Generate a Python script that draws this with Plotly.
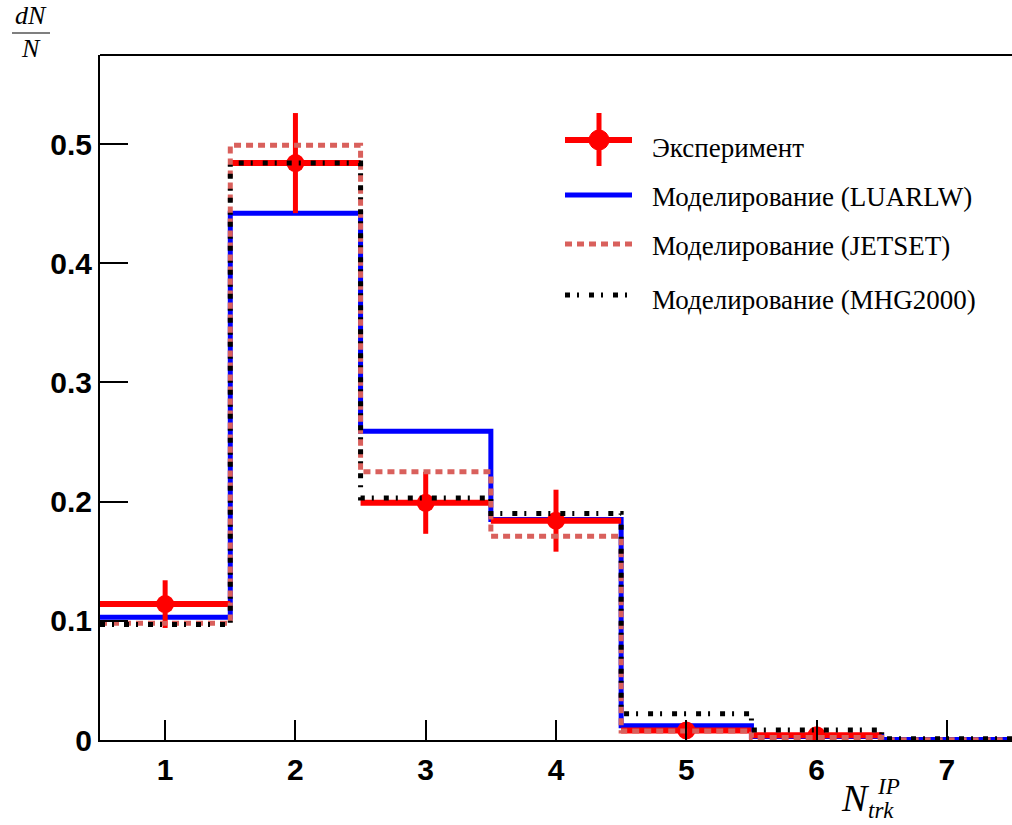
import plotly.graph_objects as go

# Track multiplicity bins and normalised distributions
n_trk = [1, 2, 3, 4, 5, 6, 7]
bin_edges = [0.5, 1.5, 2.5, 3.5, 4.5, 5.5, 6.5, 7.5]

# Empty bin (7) is not drawn for the data
exp_vals = [0.114, 0.484, 0.199, 0.184, 0.008, 0.004, None]
exp_errs = [0.020, 0.042, 0.026, 0.026, 0.002, 0.002, None]

luarlw = [0.103, 0.442, 0.259, 0.185, 0.012, 0.003, 0.0005]
jetset = [0.098, 0.499, 0.225, 0.171, 0.0075, 0.002, 0.0003]
mhg2000 = [0.097, 0.484, 0.203, 0.190, 0.022, 0.0084, 0.001]

labels = [
    "Эксперимент",
    "Моделирование (LUARLW)",
    "Моделирование (JETSET)",
    "Моделирование (MHG2000)",
]

RED = "#ff0000"
BLUE = "#0000ff"
PINK = "#d9605c"
BLACK = "#000000"

STYLES = {
    "luarlw": dict(color=BLUE, width=5, dash="solid"),
    "jetset": dict(color=PINK, width=5, dash="7px,5px"),
    "mhg": dict(color=BLACK, width=5, dash="5px,7px,2px,10px"),
}


def step(values):
    return values + [values[-1]]


fig = go.Figure()

fig.add_trace(go.Scatter(x=bin_edges, y=step(luarlw), mode="lines",
                         line=dict(shape="hv", **STYLES["luarlw"]),
                         showlegend=False, hoverinfo="skip"))

fig.add_trace(go.Scatter(
    x=n_trk, y=exp_vals, mode="markers",
    marker=dict(color=RED, size=18, symbol="circle"),
    error_y=dict(type="data", array=exp_errs, color=RED, thickness=5, width=0),
    error_x=dict(type="constant", value=0.5, color=RED, thickness=6, width=0),
    showlegend=False))

fig.add_trace(go.Scatter(x=bin_edges, y=step(jetset), mode="lines",
                         line=dict(shape="hv", **STYLES["jetset"]),
                         showlegend=False, hoverinfo="skip"))

fig.add_trace(go.Scatter(x=bin_edges, y=step(mhg2000), mode="lines",
                         line=dict(shape="hv", **STYLES["mhg"]),
                         showlegend=False, hoverinfo="skip"))

# Plot area in pixels: x 100..1012, y 55..740
L, R, T, B = 100, 1012, 55, 740


def px(x):
    return (x - L) / (R - L)


def py(y):
    return (B - y) / (B - T)


shapes = []
annotations = []

# Legend drawn by hand so the samples can be long
x0, x1 = px(565), px(632)
xtext = px(650)
legend_rows = [140, 195, 244, 295]
text_rows = [148, 197, 246, 300]

# Experiment sample: cross with a dot
shapes.append(dict(type="line", xref="paper", yref="paper", x0=x0, x1=x1,
                   y0=py(140), y1=py(140), line=dict(color=RED, width=6)))
shapes.append(dict(type="line", xref="paper", yref="paper", x0=px(599), x1=px(599),
                   y0=py(113), y1=py(166), line=dict(color=RED, width=5)))
shapes.append(dict(type="circle", xref="paper", yref="paper",
                   x0=px(589), x1=px(609), y0=py(130), y1=py(150),
                   fillcolor=RED, line=dict(color=RED, width=1)))

for key, yrow in zip(["luarlw", "jetset", "mhg"], legend_rows[1:]):
    st = STYLES[key]
    shapes.append(dict(type="line", xref="paper", yref="paper", x0=x0, x1=x1,
                       y0=py(yrow), y1=py(yrow),
                       line=dict(color=st["color"], width=st["width"], dash=st["dash"])))

serif = "Liberation Serif"

for text, yrow in zip(labels, text_rows):
    annotations.append(dict(text=text, xref="paper", yref="paper", x=xtext, y=py(yrow),
                            xanchor="left", yanchor="middle", showarrow=False,
                            font=dict(family=serif, size=27, color=BLACK)))

# Frame top line
shapes.append(dict(type="line", xref="paper", yref="paper", x0=0, x1=1, y0=1, y1=1,
                   line=dict(color=BLACK, width=2)))

# Axis titles: dN/N fraction and N_trk^IP
annotations += [
    dict(text="<i>dN</i>", xref="paper", yref="paper", x=px(31), y=py(15),
         xanchor="center", yanchor="middle", showarrow=False,
         font=dict(family=serif, size=26, color=BLACK)),
    dict(text="<i>N</i>", xref="paper", yref="paper", x=px(31), y=py(49),
         xanchor="center", yanchor="middle", showarrow=False,
         font=dict(family=serif, size=26, color=BLACK)),
    dict(text="<i>N</i>", xref="paper", yref="paper", x=px(855), y=py(798),
         xanchor="center", yanchor="middle", showarrow=False,
         font=dict(family=serif, size=38, color=BLACK)),
    dict(text="<i>IP</i>", xref="paper", yref="paper", x=px(875), y=py(786),
         xanchor="left", yanchor="middle", showarrow=False,
         font=dict(family=serif, size=23, color=BLACK)),
    dict(text="<i>trk</i>", xref="paper", yref="paper", x=px(866), y=py(810),
         xanchor="left", yanchor="middle", showarrow=False,
         font=dict(family=serif, size=23, color=BLACK)),
]
shapes.append(dict(type="line", xref="paper", yref="paper", x0=px(12), x1=px(50),
                   y0=py(33), y1=py(33), line=dict(color=BLACK, width=1.2)))

tickfont = dict(family="Liberation Sans", size=30, color=BLACK, weight="bold")

fig.update_layout(
    width=1012, height=825,
    margin=dict(l=L, r=1012 - R, t=T, b=825 - B),
    paper_bgcolor="white", plot_bgcolor="white",
    shapes=shapes, annotations=annotations,
    xaxis=dict(range=[0.5, 7.5], tickvals=n_trk, ticktext=[str(v) for v in n_trk],
               ticks="inside", ticklen=20, tickwidth=1.5, tickcolor=BLACK,
               showline=True, linecolor=BLACK, linewidth=2, showgrid=False,
               zeroline=False, tickfont=tickfont, ticklabelstandoff=2),
    yaxis=dict(range=[0, 0.5747], tickvals=[0, 0.1, 0.2, 0.3, 0.4, 0.5],
               ticktext=["0", "0.1", "0.2", "0.3", "0.4", "0.5"],
               ticks="inside", ticklen=28, tickwidth=1.5, tickcolor=BLACK,
               showline=True, linecolor=BLACK, linewidth=2, showgrid=False,
               zeroline=False, tickfont=tickfont),
)

fig.write_html("out.html")
